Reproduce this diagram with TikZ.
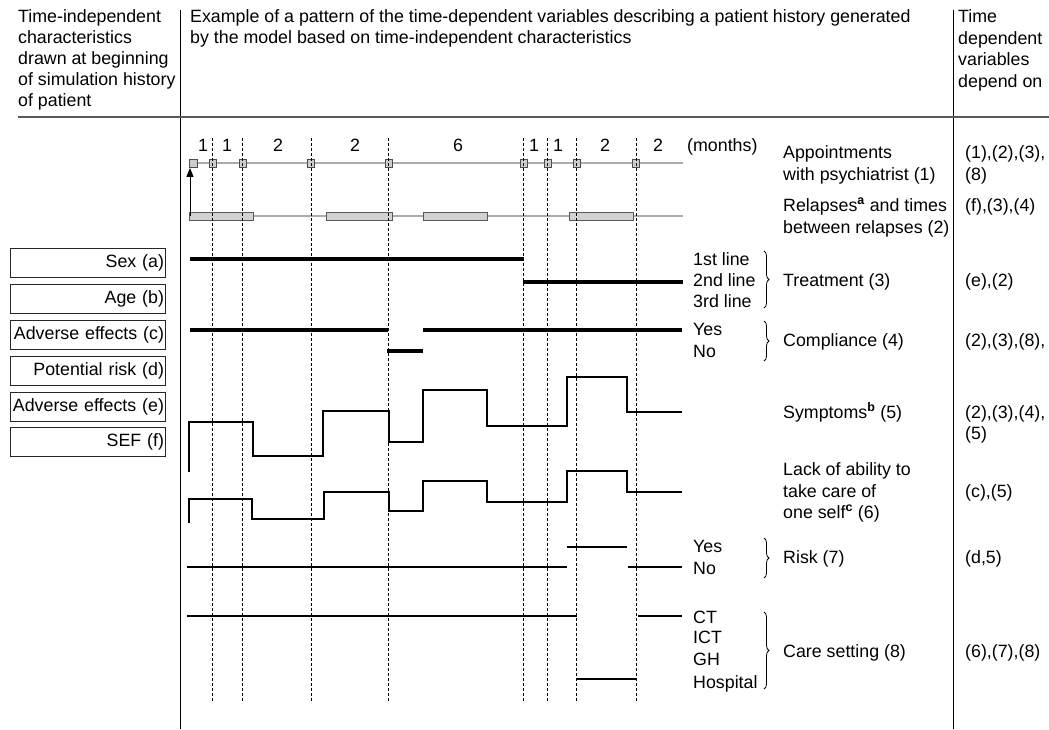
\documentclass[tikz,border=0pt]{standalone}
\usepackage{fontspec}
\setmainfont{Liberation Sans}
\usetikzlibrary{decorations.pathreplacing,arrows.meta}
\begin{document}
\begin{tikzpicture}[x=1pt,y=-1pt,
  every node/.style={inner sep=0pt,font=\fontsize{17.8}{21}\selectfont},
  lbl/.style={anchor=base west},
  num/.style={anchor=base},
  charbox/.style={draw=black!85,line width=1pt,minimum width=155pt,minimum height=29pt,
                  text width=152pt,inner xsep=1.5pt,align=right},
  rule/.style={line width=0.9pt},
  gridline/.style={dash pattern=on 3pt off 2pt,line width=0.6pt},
  track/.style={gray!65,line width=2pt},
  stepA/.style={line width=3.5pt},
  stepB/.style={line width=2.7pt},
  stepC/.style={line width=2.3pt},
  brc/.style={decorate,decoration={brace,amplitude=5pt},line width=0.8pt},
  apt/.style={draw=black!70,fill=gray!40,line width=0.8pt,minimum width=7pt,minimum height=8pt},
  rel/.style={draw=black!65,fill=gray!35,line width=1pt},
]
\fill[white] (0,0) rectangle (1049,729);
\useasboundingbox (0,0) rectangle (1049,729);

% column rules and header rule
\draw[rule] (180,10) -- (180,729);
\draw[rule] (953,10) -- (953,729);
\draw[gray!70!black,line width=2pt] (18,117) -- (1049,117);

% header texts
\node[lbl] (hl1) at (18,22) {Time-independent};
\node[lbl] (hl2) at (18,43) {characteristics};
\node[lbl] (hl3) at (18,64) {drawn at beginning};
\node[lbl] (hl4) at (18,85) {of simulation history};
\node[lbl] (hl5) at (18,106) {of patient};
\node[lbl] (hm1) at (190,22) {Example of a pattern of the time-dependent variables describing a patient history generated};
\node[lbl] (hm2) at (190,43) {by the model based on time-independent characteristics};
\node[lbl] (hr1) at (958,22) {Time};
\node[lbl] (hr2) at (958,44) {dependent};
\node[lbl] (hr3) at (958,65) {variables};
\node[lbl] (hr4) at (958,87) {depend on};

% time-independent characteristics
\node[charbox] (sex) at (88,262.5) {Sex (a)};
\node[charbox] (age) at (88,298.5) {Age (b)};
\node[charbox] (adc) at (88,335) {Adverse effects (c)};
\node[charbox] (pot) at (88,370.5) {Potential risk (d)};
\node[charbox] (ade) at (88,406.5) {Adverse effects (e)};
\node[charbox] (sef) at (88,442) {SEF (f)};

% month intervals
\node[num] (m1) at (203,151) {1};
\node[num] (m2) at (227,151) {1};
\node[num] (m3) at (278,151) {2};
\node[num] (m4) at (355,151) {2};
\node[num] (m5) at (458,151) {6};
\node[num] (m6) at (534,151) {1};
\node[num] (m7) at (558,151) {1};
\node[num] (m8) at (605,151) {2};
\node[num] (m9) at (658,151) {2};
\node[lbl] (months) at (687,151) {(months)};

% appointments track
\draw[track] (190,163) -- (683,163);
\node[apt,minimum width=8pt] (a0) at (193,163.5) {};
\foreach \x [count=\i] in {212.5,242.5,311,388.5,523.5,547.5,576.5,636}
  \node[apt] (a\i) at (\x,163.5) {};

% relapses track
\draw[track] (190,216) -- (683,216);
\draw[rel] (189,212) rectangle (253,220);
\draw[rel] (326,212) rectangle (392,220);
\draw[rel] (423,212) rectangle (487,220);
\draw[rel] (569,212) rectangle (633,220);
\coordinate (start) at (190,216);
\draw[line width=1pt,-{Triangle[length=9pt,width=7pt]}] (start) -- (a0.south west -| start);

% treatment
\draw[stepA] (190,259) -- (524,259);
\draw[stepA] (523,282) -- (683,282);

% compliance
\draw[stepA] (190,330) -- (388,330);
\draw[stepA] (387,351) -- (423,351);
\draw[stepA] (423,330) -- (682,330);

% symptoms
\draw[stepB,line join=miter] (189,472) -- (189,422) -- (253,422) -- (253,456) -- (323,456)
  -- (323,411) -- (389,411) -- (389,442) -- (423,442) -- (423,390) -- (487,390)
  -- (487,426) -- (567,426) -- (567,377) -- (627,377) -- (627,412) -- (682,412);

% lack of ability to take care of one self
\draw[stepB,line join=miter] (189,523) -- (189,499) -- (252,499) -- (252,519) -- (324,519)
  -- (324,492) -- (389,492) -- (389,511) -- (423,511) -- (423,481) -- (487,481)
  -- (487,502) -- (567,502) -- (567,471) -- (627,471) -- (627,492) -- (682,492);

% risk
\draw[stepC] (567,547) -- (627,547);
\draw[stepC] (187,567) -- (567,567);
\draw[stepC] (628,567) -- (682,567);

% care setting
\draw[stepC] (187,616) -- (577,616);
\draw[stepC] (638,616) -- (682,616);
\draw[stepC] (577,679) -- (636,679);

% dashed time grid
\foreach \x in {212.5,242.5,311,388.5,523.5,547.5,576.5,636}
  \draw[gridline] (\x,138) -- (\x,703);

% level labels
\node[lbl] (t1) at (693,265) {1st line};
\node[lbl] (t2) at (693,286) {2nd line};
\node[lbl] (t3) at (693,307) {3rd line};
\node[lbl] (cy) at (693,335) {Yes};
\node[lbl] (cn) at (693,357) {No};
\node[lbl] (ry) at (693,552) {Yes};
\node[lbl] (rn) at (693,574) {No};
\node[lbl] (s1) at (693,623) {CT};
\node[lbl] (s2) at (693,643) {ICT};
\node[lbl] (s3) at (693,665) {GH};
\node[lbl] (s4) at (693,688) {Hospital};

% braces
\draw[brc] (764,251) -- (764,308);
\draw[brc] (764,321) -- (764,361);
\draw[brc] (764,538) -- (764,578);
\draw[brc] (764,612) -- (764,689);

% variable names
\node[lbl] (v1a) at (783,158) {Appointments};
\node[lbl] (v1b) at (783,180) {with psychiatrist (1)};
\node[lbl] (v2a) at (783,211) {Relapses\textsuperscript{\bfseries a} and times};
\node[lbl] (v2b) at (783,233) {between relapses (2)};
\node[lbl] (v3) at (783,286) {Treatment (3)};
\node[lbl] (v4) at (783,346) {Compliance (4)};
\node[lbl] (v5) at (783,418) {Symptoms\textsuperscript{\bfseries b} (5)};
\node[lbl] (v6a) at (783,475) {Lack of ability to};
\node[lbl] (v6b) at (783,497) {take care of};
\node[lbl] (v6c) at (783,518) {one self\textsuperscript{\bfseries c} (6)};
\node[lbl] (v7) at (783,563) {Risk (7)};
\node[lbl] (v8) at (783,657) {Care setting (8)};

% dependencies
\node[lbl] (d1a) at (965,158) {(1),(2),(3),};
\node[lbl] (d1b) at (965,180) {(8)};
\node[lbl] (d2) at (965,211) {(f),(3),(4)};
\node[lbl] (d3) at (965,286) {(e),(2)};
\node[lbl] (d4) at (965,346) {(2),(3),(8),};
\node[lbl] (d5a) at (965,418) {(2),(3),(4),};
\node[lbl] (d5b) at (965,439) {(5)};
\node[lbl] (d6) at (965,497) {(c),(5)};
\node[lbl] (d7) at (965,563) {(d,5)};
\node[lbl] (d8) at (965,657) {(6),(7),(8)};
\end{tikzpicture}
\end{document}
